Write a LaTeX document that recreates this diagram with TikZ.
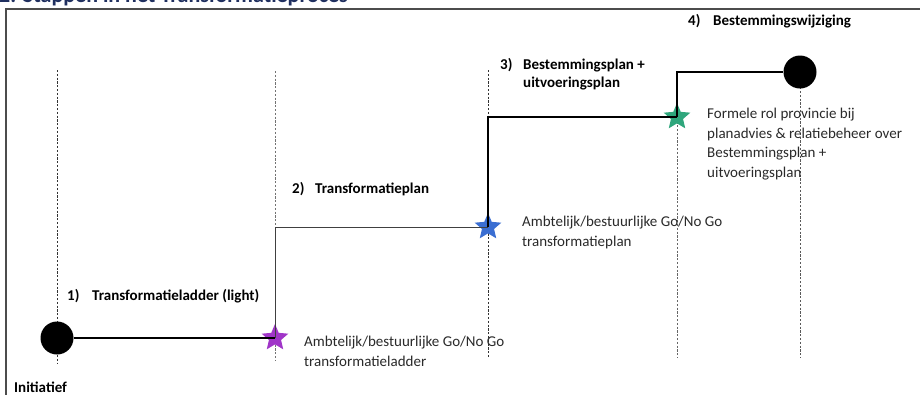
\documentclass[tikz,border=0pt]{standalone}
\usepackage{fontspec}
\setmainfont{Carlito}
\usetikzlibrary{shapes.geometric}
\definecolor{starpurple}{HTML}{A035C8}
\definecolor{starblue}{HTML}{3A6ED2}
\definecolor{stargreen}{HTML}{2FA67C}
\definecolor{titleblue}{HTML}{1F2F5F}
\definecolor{txt}{HTML}{2A2A2A}
\tikzset{
  lbl/.style={inner sep=0pt, font=\fontsize{15}{19.5}\selectfont, text=txt, align=left},
  steplbl/.style={inner sep=0pt, font=\bfseries\fontsize{15}{18.5}\selectfont, text=black, align=left},
  dot/.style={circle, fill=black, draw=none, minimum size=33pt, inner sep=0pt},
  gostar/.style={star, star points=5, star point ratio=2.2, minimum size=28pt, inner sep=0pt, draw=none},
  guide/.style={draw=black!80, line width=1pt, dash pattern=on 2.2pt off 1.6pt},
  stepline/.style={draw=black, line width=1.1pt},
  frame/.style={draw=black!70, line width=2pt}
}
\begin{document}
\begin{tikzpicture}[x=1pt, y=-1pt]
\useasboundingbox (0,0) rectangle (920,394);
\fill[white] (0,0) rectangle (920,394);
% title (cut off at the top, as in the source)
\node[anchor=base west, inner sep=0pt, font=\bfseries\fontsize{22}{24}\selectfont, text=titleblue] (title) at (-1,2.5) {2. Stappen in het Transformatieproces};
% frame
\draw[frame] (6,400) -- (6,9) -- (930,9);
% guide coordinates
\coordinate (g1t) at (57,70);  \coordinate (g1b) at (57,364);
\coordinate (g2t) at (275,71); \coordinate (g2b) at (275,361);
\coordinate (g3t) at (488,70); \coordinate (g3b) at (488,358);
\coordinate (g4t) at (677,72); \coordinate (g4b) at (677,358);
\coordinate (g5t) at (800,72); \coordinate (g5b) at (800,358);
\draw[guide] (g1t) -- (g1b);
\draw[guide, draw=black!55] (g2t) -- (g2b);
\draw[guide] (g3t) -- (g3b);
\draw[guide, draw=black!60] (g4t) -- (g4b);
\draw[guide, draw=black!65] (g5t) -- (g5b);
% milestones
\node[dot] (c1) at (57,338) {};
\node[gostar, fill=starpurple] (s1) at (275,338) {};
\node[gostar, fill=starblue] (s2) at (488,227) {};
\node[gostar, fill=stargreen] (s3) at (677,117) {};
\node[dot] (c2) at (800,72) {};
% step line
\draw[stepline] (c1.east) -- (s1.center);
\draw[stepline, line width=0.8pt, draw=black!75] (s1.center) |- (s2.center);
\draw[stepline] (s2.center) |- (s3.center);
\draw[stepline] (s3.center) |- (c2.west);
% step labels
\node[steplbl, anchor=base west] (l1) at (67,300) {\makebox[25pt][l]{1)}Transformatieladder (light)};
\node[steplbl, anchor=base west] (l2) at (292,193) {\makebox[23pt][l]{2)}Transformatieplan};
\node[steplbl, anchor=north west] (l3) at (500,58) {\makebox[23pt][l]{3)}Bestemmingsplan +\\\hspace*{23pt}uitvoeringsplan};
\node[steplbl, anchor=base west] (l4) at (688,25) {\makebox[25pt][l]{4)}Bestemmingswijziging};
\node[steplbl, anchor=base west] (init) at (14,392) {Initiatief};
% go/no go labels
\node[lbl, anchor=north west] (a1) at (304,336) {Ambtelijk/bestuurlijke Go/No Go\\transformatieladder};
\node[lbl, anchor=north west] (a2) at (522,216) {Ambtelijk/bestuurlijke Go/No Go\\transformatieplan};
\node[lbl, anchor=north west] (a3) at (707,108) {Formele rol provincie bij\\planadvies \& relatiebeheer over\\Bestemmingsplan +\\uitvoeringsplan};
\end{tikzpicture}
\end{document}
